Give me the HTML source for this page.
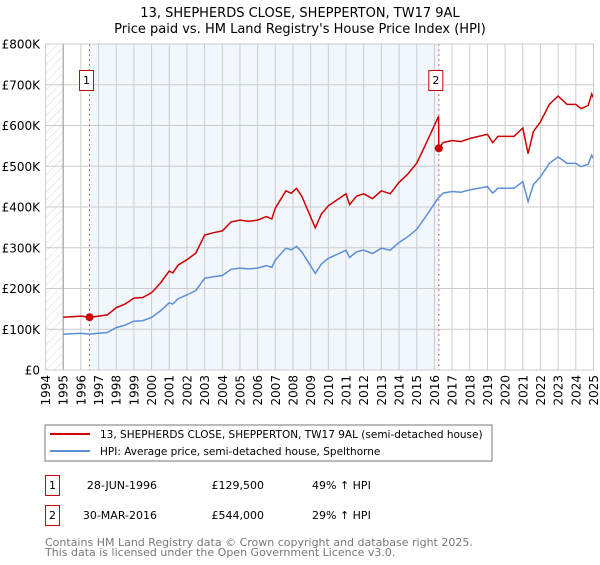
<!DOCTYPE html>
<html><head><meta charset="utf-8"><style>
body{margin:0;background:#fff;}
svg text{font-family:"DejaVu Sans","Liberation Sans",sans-serif;}
</style></head><body>
<svg id="chart" width="600" height="560" viewBox="0 0 600 560" xmlns="http://www.w3.org/2000/svg">
<defs><pattern id="hatch" width="6" height="6" patternUnits="userSpaceOnUse" patternTransform="rotate(45)"><line x1="0" y1="0" x2="0" y2="6" stroke="#d8d8d8" stroke-width="1"/></pattern></defs>
<text x="300" y="17" text-anchor="middle" font-size="13">13, SHEPHERDS CLOSE, SHEPPERTON, TW17 9AL</text>
<text x="300" y="33" text-anchor="middle" font-size="13">Price paid vs. HM Land Registry's House Price Index (HPI)</text>
<g id="plot"></g>
<rect x="45" y="425" width="447" height="36" fill="#fff" stroke="#777"/>
<line x1="50" y1="434" x2="90" y2="434" stroke="#cc0000" stroke-width="2"/>
<text x="100" y="438" font-size="10.5">13, SHEPHERDS CLOSE, SHEPPERTON, TW17 9AL (semi-detached house)</text>
<line x1="50" y1="451" x2="90" y2="451" stroke="#5b8fd6" stroke-width="2"/>
<text x="100" y="455" font-size="10.5">HPI: Average price, semi-detached house, Spelthorne</text>
<rect x="45.5" y="475.5" width="14" height="20" fill="#fff" stroke="#cc0000"/>
<text x="52.5" y="489" text-anchor="middle" font-size="11">1</text>
<text x="157" y="489" text-anchor="end" font-size="11">28-JUN-1996</text>
<text x="264" y="489" text-anchor="end" font-size="11">£129,500</text>
<text x="312" y="489" font-size="11">49% ↑ HPI</text>
<rect x="45.5" y="505.5" width="14" height="20" fill="#fff" stroke="#cc0000"/>
<text x="52.5" y="519" text-anchor="middle" font-size="11">2</text>
<text x="157" y="519" text-anchor="end" font-size="11">30-MAR-2016</text>
<text x="264" y="519" text-anchor="end" font-size="11">£544,000</text>
<text x="312" y="519" font-size="11">29% ↑ HPI</text>
<text x="45" y="546" font-size="11" fill="#777">Contains HM Land Registry data © Crown copyright and database right 2025.</text>
<text x="45" y="556" font-size="11" fill="#777">This data is licensed under the Open Government Licence v3.0.</text>
</svg>
<script>
const hpiYears = [1995,1995.5,1996,1996.5,1997,1997.5,1998,1998.5,1999,1999.5,2000,2000.5,2001,2001.2,2001.5,2002,2002.5,2003,2003.5,2004,2004.5,2005,2005.5,2006,2006.5,2006.8,2007,2007.6,2007.9,2008.2,2008.5,2009.26,2009.6,2010,2010.5,2011,2011.2,2011.6,2012,2012.5,2013,2013.5,2014,2014.5,2015,2015.5,2016.2,2016.5,2017,2017.5,2018,2018.5,2019,2019.3,2019.6,2020,2020.5,2021,2021.3,2021.6,2022,2022.5,2023,2023.5,2024,2024.3,2024.7,2024.9,2025];
const hpiValues = [88,89,90,88,90,92,104,110,120,121,129,145,165,162,175,184,195,225,229,232,247,250,248,250,256,252,270,299,295,303,290,237,260,274,284,294,276,290,294,286,299,294,313,327,345,376,421,434,438,436,442,446,450,434,446,446,446,462,413,455,474,507,523,507,507,499,505,527,519];
const saleDates = [1996.49,2016.25];
const salePrices = [129.5,544];
const saleLabels = ["1","2"];
const yTicks = [0,100,200,300,400,500,600,700,800];
const yTickLabels = ["£0","£100K","£200K","£300K","£400K","£500K","£600K","£700K","£800K"];
const xTicks = [1994,1995,1996,1997,1998,1999,2000,2001,2002,2003,2004,2005,2006,2007,2008,2009,2010,2011,2012,2013,2014,2015,2016,2017,2018,2019,2020,2021,2022,2023,2024,2025];

const X0=45.5,X1=593.5,Y0=370,Y1=44,YEAR0=1994,YEAR1=2025,VMAX=800;
const xs=y=>X0+(y-YEAR0)/(YEAR1-YEAR0)*(X1-X0);
const ys=v=>Y0-v/VMAX*(Y0-Y1);
const NS="http://www.w3.org/2000/svg";
const g=document.getElementById('plot');
function mk(t,a){const e=document.createElementNS(NS,t);for(const k in a)e.setAttribute(k,a[k]);g.appendChild(e);return e;}
function hpiAt(t){for(let i=0;i<hpiYears.length-1;i++){if(t>=hpiYears[i]&&t<=hpiYears[i+1]){const f=(t-hpiYears[i])/(hpiYears[i+1]-hpiYears[i]);return hpiValues[i]+f*(hpiValues[i+1]-hpiValues[i]);}}return hpiValues[hpiValues.length-1];}

let e=mk('rect',{x:X0,y:Y1,width:X1-X0,height:Y0-Y1,fill:'#fff'});


e=mk('rect',{x:X0,y:Y1,width:xs(1995)-X0,height:Y0-Y1,fill:'url(#hatch)'});


e=mk('rect',{x:xs(saleDates[0]),y:Y1,width:xs(saleDates[1])-xs(saleDates[0]),height:Y0-Y1,fill:'#f2f6fd'});


xTicks.forEach((t,i)=>{
 const l=mk('line',{x1:xs(t),x2:xs(t),y1:Y1,y2:Y0,stroke:'#ccc','stroke-width':1});
 
 
 const tx=mk('text',{x:0,y:0,'font-size':12,'text-anchor':'end',transform:`translate(${xs(t)+4.5},375) rotate(-90)`});
 tx.textContent=t;
 
 
});
yTicks.forEach((v,i)=>{
 const l=mk('line',{x1:X0,x2:X1,y1:ys(v),y2:ys(v),stroke:'#ccc','stroke-width':1});
 
 
 const tx=mk('text',{x:40,y:ys(v)+4.5,'font-size':12,'text-anchor':'end'});
 tx.textContent=yTickLabels[i];
 
 
});
e=mk('line',{x1:xs(1995),x2:xs(1995),y1:Y1,y2:Y0,stroke:'#999'});


saleDates.forEach((d,i)=>{
 const l=mk('line',{x1:xs(d),x2:xs(d),y1:Y1,y2:Y0,stroke:'#e06060','stroke-dasharray':'2,3'});
 
 
});
let p=hpiYears.map((t,i)=>(i?'L':'M')+xs(t).toFixed(1)+','+ys(hpiValues[i]).toFixed(1)).join('');
e=mk('path',{d:p,fill:'none',stroke:'#5b8fd6','stroke-width':1.5});


const r1=salePrices[0]/hpiAt(saleDates[0]), r2=salePrices[1]/hpiAt(saleDates[1]);
let pts=[];
hpiYears.forEach((t,i)=>{ if(t<saleDates[1]) pts.push([t,hpiValues[i]*r1]); });
pts.push([saleDates[1]-0.01,hpiAt(saleDates[1])*r1]);
pts.push([saleDates[1],salePrices[1]]);
hpiYears.forEach((t,i)=>{ if(t>saleDates[1]) pts.push([t,hpiValues[i]*r2]); });
p=pts.map((q,i)=>(i?'L':'M')+xs(q[0]).toFixed(1)+','+ys(q[1]).toFixed(1)).join('');
e=mk('path',{d:p,fill:'none',stroke:'#cc0000','stroke-width':1.5});


saleDates.forEach((d,i)=>{
 const c=mk('circle',{cx:xs(d),cy:ys(salePrices[i]),r:4,fill:'#cc0000'});
 
 
 const bx=xs(d)-10;
 const b=mk('rect',{x:bx,y:70.5,width:14,height:20,fill:'#fff',stroke:'#cc0000'});
 
 
 const t=mk('text',{x:bx+7,y:84,'font-size':11,'text-anchor':'middle'});
 t.textContent=saleLabels[i];
 
 
});
e=mk('rect',{x:X0,y:Y1,width:X1-X0,height:Y0-Y1,fill:'none',stroke:'#ccc'});


</script>
</body></html>
